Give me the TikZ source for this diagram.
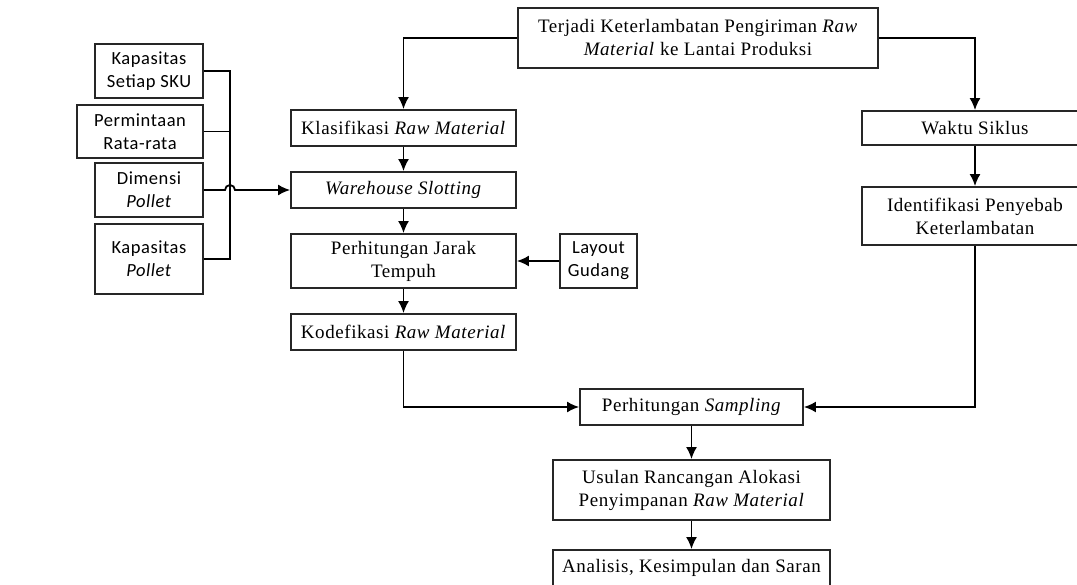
\documentclass[tikz,border=0pt]{standalone}
\usepackage{fontspec}
\setmainfont[LetterSpace=3]{Liberation Serif}
\newfontfamily\calfont[LetterSpace=3]{Carlito}
\usetikzlibrary{arrows.meta}

\begin{document}
\begin{tikzpicture}[x=1pt,y=-1pt,
  box/.style={draw=black!85, line width=1.8pt, fill=white, align=center, inner sep=1pt,
    font=\fontsize{19}{23}\selectfont},
  sbox/.style={box, font=\calfont\fontsize{18.5}{23}\selectfont},
  arr/.style={line width=1.8pt, -{Latex[length=12pt,width=11pt]}},
  ln/.style={line width=1.8pt}]

\useasboundingbox (0,0) rectangle (1077,585);

% main column
\node[box, minimum width=360, minimum height=60] (terjadi) at (698,38) {Terjadi Keterlambatan Pengiriman \textit{Raw}\\\textit{Material} ke Lantai Produksi};
\node[box, minimum width=225, minimum height=36] (klas) at (403.5,128) {Klasifikasi \textit{Raw Material}};
\node[box, minimum width=225, minimum height=36] (slot) at (403.5,190) {\textit{Warehouse Slotting}};
\node[box, minimum width=225, minimum height=54] (jarak) at (403.5,261) {Perhitungan Jarak\\Tempuh};
\node[box, minimum width=225, minimum height=36] (kode) at (403.5,332) {Kodefikasi \textit{Raw Material}};
\node[sbox, minimum width=77, minimum height=54] (layout) at (598.5,261) {Layout\\Gudang};

% right column
\node[box, minimum width=226, minimum height=34] (waktu) at (975,128) {Waktu Siklus};
\node[box, minimum width=226, minimum height=58] (ident) at (975,216) {Identifikasi Penyebab\\Keterlambatan};

% bottom
\node[box, minimum width=223, minimum height=36] (samp) at (691.5,407) {Perhitungan \textit{Sampling}};
\node[box, minimum width=277, minimum height=60] (usulan) at (691.5,490) {Usulan Rancangan Alokasi\\Penyimpanan \textit{Raw Material}};
\node[box, minimum width=277, minimum height=36] (analisis) at (691.5,568) {Analisis, Kesimpulan dan Saran};

% inputs on the left
\node[sbox, minimum width=108, minimum height=54] (sku) at (149,71) {Kapasitas\\Setiap SKU};
\node[sbox, minimum width=126, minimum height=53] (minta) at (140,131.5) {Permintaan\\Rata-rata};
\node[sbox, minimum width=108, minimum height=54] (dimensi) at (149,190) {Dimensi\\\textit{Pollet}};
\node[sbox, minimum width=108, minimum height=70] (kappol) at (149,259) {Kapasitas\\\textit{Pollet}};

\coordinate (busT) at (230,71);
\coordinate (busB) at (230,259);

\draw[ln] (sku.east) -- (busT) -- (busB) -- (kappol.east);
\draw[ln] (minta.east) -- (minta.east -| busT);
\draw[arr] (dimensi.east) -- ([xshift=-5pt]dimensi.east -| busT) arc (180:0:5pt) -- (slot.west);

\draw[arr] (terjadi.west) -| (klas.north);
\draw[arr] (terjadi.east) -| (waktu.north);
\draw[arr] (klas) -- (slot);
\draw[arr] (slot) -- (jarak);
\draw[arr] (jarak) -- (kode);
\draw[arr] (layout) -- (jarak);
\draw[arr] (waktu) -- (ident);
\draw[arr] (kode.south) |- (samp.west);
\draw[arr] (ident.south) |- (samp.east);
\draw[arr] (samp) -- (usulan);
\draw[arr] (usulan) -- (analisis);

\end{tikzpicture}
\end{document}
